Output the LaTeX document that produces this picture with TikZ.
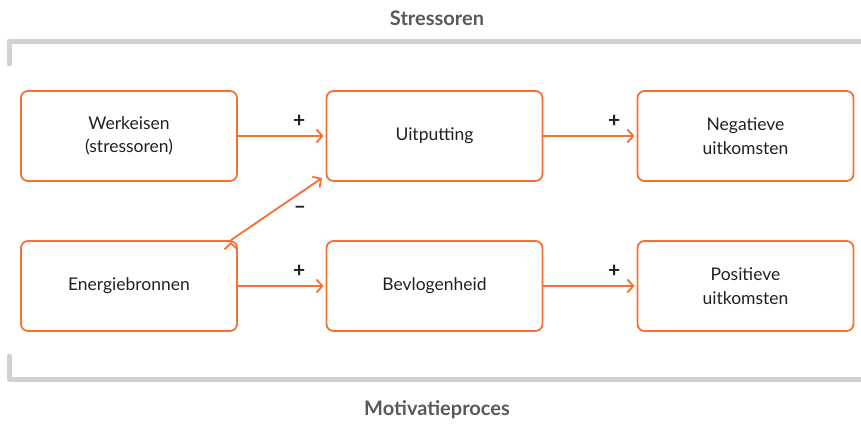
\documentclass[tikz,border=0pt]{standalone}
\usepackage{fontspec}
\setmainfont{Lato}
\usepackage{xcolor}
\usepackage{tikz}
\usetikzlibrary{
  arrows.meta,
  calc
}
\definecolor{oranje}{RGB}{246,112,52}
\definecolor{grijs}{RGB}{209,210,212}
\definecolor{koptekst}{RGB}{88,89,91}
\definecolor{tekst}{RGB}{35,31,32}
\tikzset{
  blok/.style={
    draw=oranje,
    line width=1.8pt,
    rounded corners=7pt,
    minimum width=216pt,
    minimum height=90pt,
    align=center,
    text=tekst,
    font=\fontsize{17.5}{23.5}\selectfont},
  pijl/.style={
    -{Straight Barb[length=6pt,width=13pt,line width=1.8pt]},
    draw=oranje,
    line width=1.8pt,
    shorten >=2pt},
  teken/.style={
    text=tekst,
    font=\fontsize{21}{24}\bfseries\selectfont},
  haak/.style={
    draw=grijs,
    line width=5pt,
    line cap=round,
    line join=round}
  }

\begin{document}
\begin{tikzpicture}[x=1pt,y=-1pt]
  \useasboundingbox (0,0) rectangle (861,423);
  \node[blok] (werkeisen) at (129,136) {Werkeisen\\(stressoren)};
  \node[blok] (uitputting) at (434.5,136) {Uitputting};
  \node[blok] (negatief) at (745.5,136) {Negatieve\\uitkomsten};
  \node[blok] (energie) at (129,286) {Energiebronnen};
  \node[blok] (bevlogen) at (434.5,286) {Bevlogenheid};
  \node[blok] (positief) at (745.5,286) {Positieve\\uitkomsten};
  \draw [pijl]
    (werkeisen) edge[] node[teken, pos=0.7, above=4pt]{+} (uitputting)
    (uitputting) edge[] node[teken, pos=0.76, above=4pt]{+} (negatief)
    (energie) edge[] node[teken, pos=0.7, above=4pt]{+} (bevlogen)
    (bevlogen) edge[] node[teken, pos=0.76, above=4pt]{+} (positief)
    ([xshift=-7pt]energie.north east) edge[] ([shift={(-2pt,5pt)}]uitputting.south west);
  \node[teken] (min) at (300,210) {--};
  % grijze haken
  \coordinate (boven1) at (9,64);
  \coordinate (boven2) at (9,41);
  \coordinate (boven3) at (870,41);
  \coordinate (onder1) at (9,356);
  \coordinate (onder2) at (9,379);
  \coordinate (onder3) at (870,379);
  \draw [haak] (boven1) -- (boven2) -- (boven3);
  \draw [haak] (onder1) -- (onder2) -- (onder3);
  \node[text=koptekst, font=\fontsize{20}{24}\bfseries\selectfont] (stress) at (437,18) {Stressoren};
  \node[text=koptekst, font=\fontsize{20}{24}\bfseries\selectfont] (motivatie) at (437,410) {Motivatieproces};
\end{tikzpicture}
\end{document}
